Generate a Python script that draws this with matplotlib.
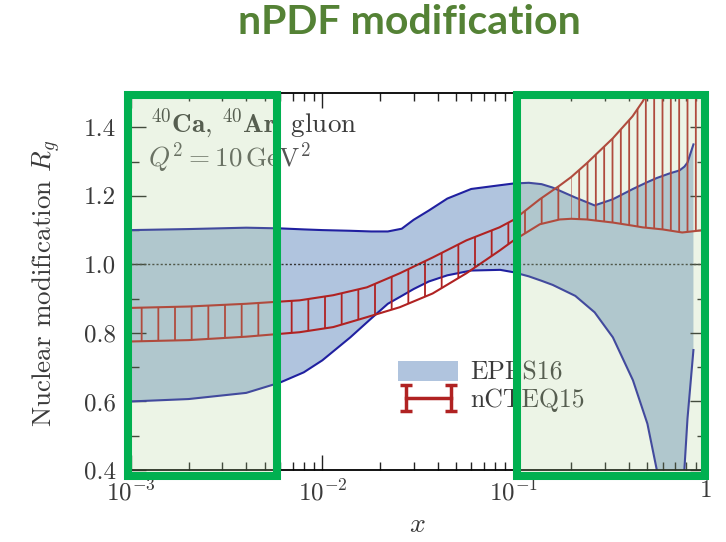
import numpy as np
import matplotlib
matplotlib.use('Agg')
import matplotlib.pyplot as plt
from matplotlib.patches import Rectangle, Patch
from matplotlib.ticker import FixedLocator, FixedFormatter, LogLocator, NullFormatter, MultipleLocator

plt.rcParams['mathtext.fontset'] = 'cm'
plt.rcParams['font.family'] = ['cmr10', 'DejaVu Serif']
plt.rcParams['axes.unicode_minus'] = False
plt.rcParams['hatch.linewidth'] = 1.3

# ---------------- data ----------------
title = 'nPDF modification'

epps_x = [0.001, 0.002, 0.004, 0.006, 0.008, 0.010, 0.014, 0.018, 0.022, 0.026,
          0.030, 0.036, 0.045, 0.060, 0.085, 0.100, 0.120, 0.140, 0.160, 0.210,
          0.265, 0.330, 0.420, 0.500, 0.560, 0.650, 0.735, 0.780, 0.810, 0.870]
epps_hi = [1.100, 1.103, 1.107, 1.105, 1.102, 1.100, 1.098, 1.096, 1.096, 1.104,
           1.130, 1.157, 1.192, 1.220, 1.231, 1.236, 1.238, 1.234, 1.224, 1.195,
           1.172, 1.190, 1.220, 1.240, 1.252, 1.265, 1.274, 1.285, 1.297, 1.350]
epps_lo = [0.600, 0.607, 0.625, 0.655, 0.685, 0.720, 0.787, 0.842, 0.885, 0.908,
           0.928, 0.950, 0.968, 0.982, 0.984, 0.977, 0.965, 0.952, 0.940, 0.908,
           0.860, 0.787, 0.662, 0.535, 0.400, 0.250, 0.300, 0.400, 0.550, 0.750]

ncteq_x = [0.001, 0.002, 0.004, 0.0076, 0.0114, 0.0171, 0.0254, 0.0377, 0.0566, 0.0843,
           0.100, 0.137, 0.174, 0.200, 0.241, 0.330, 0.418, 0.472, 0.600, 0.760, 0.950]
ncteq_hi = [0.873, 0.877, 0.885, 0.895, 0.910, 0.933, 0.974, 1.020, 1.070, 1.108,
            1.130, 1.190, 1.230, 1.255, 1.295, 1.368, 1.432, 1.475, 1.580, 1.720, 1.880]
ncteq_lo = [0.775, 0.779, 0.789, 0.802, 0.817, 0.846, 0.875, 0.915, 0.974, 1.040,
            1.070, 1.117, 1.131, 1.133, 1.131, 1.122, 1.113, 1.108, 1.102, 1.093, 1.099]

xticks = [1e-3, 1e-2, 1e-1, 1]
xticklabels = [r'$10^{-3}$', r'$10^{-2}$', r'$10^{-1}$', r'$1$']
yticks = [0.4, 0.6, 0.8, 1.0, 1.2, 1.4]
yticklabels = ['0.4', '0.6', '0.8', '1.0', '1.2', '1.4']
legend_labels = ['EPPS16', 'nCTEQ15']

# ---------------- style ----------------
W, H = 726, 542
blue_fill = '#b0c4de'
blue_line = '#2020a0'
red = '#b02222'
green = '#00b050'
txt = '#3a3a3a'
overlay = (176/255, 209/255, 151/255, 0.24)

fig = plt.figure(figsize=(W/100, H/100), dpi=100)
ax = fig.add_axes([131/W, 1-470/H, (705-131)/W, (470-93)/H])
ax.set_xscale('log')
ax.set_xlim(1e-3, 1)
ax.set_ylim(0.4, 1.5)

ax.fill_between(epps_x, epps_lo, epps_hi, facecolor=blue_fill, lw=0, zorder=1)
ax.plot(epps_x, epps_hi, color=blue_line, lw=1.5, zorder=2)
ax.plot(epps_x, epps_lo, color=blue_line, lw=1.5, zorder=2)

nx = np.array(ncteq_x)
plt.rcParams['hatch.color'] = red
ax.fill_between(nx, ncteq_lo, ncteq_hi, where=nx <= 0.2, facecolor='none',
                edgecolor=red, hatch='|', lw=0, zorder=3)
ax.fill_between(nx, ncteq_lo, ncteq_hi, where=nx >= 0.2, facecolor='none',
                edgecolor=red, hatch='||', lw=0, zorder=3)
ax.plot(nx, ncteq_hi, color=red, lw=1.5, zorder=4)
ax.plot(nx, ncteq_lo, color=red, lw=1.5, zorder=4)

ax.axhline(1.0, color='#333333', ls=(0, (1.5, 1.5)), lw=1.0, zorder=5)

ax.xaxis.set_major_locator(FixedLocator(xticks))
ax.xaxis.set_major_formatter(FixedFormatter(xticklabels))
ax.xaxis.set_minor_locator(LogLocator(base=10, subs=np.arange(2, 10)))
ax.xaxis.set_minor_formatter(NullFormatter())
ax.yaxis.set_major_locator(FixedLocator(yticks))
ax.yaxis.set_major_formatter(FixedFormatter(yticklabels))
ax.yaxis.set_minor_locator(MultipleLocator(0.1))

ax.tick_params(which='both', direction='in', top=True, right=True, width=1.0, color='#222222')
ax.tick_params(which='major', length=11, labelsize=18, labelcolor=txt)
ax.tick_params(which='minor', length=5.5)
ax.tick_params(axis='x', which='major', pad=7)
ax.tick_params(axis='y', which='major', pad=11)
for s in ax.spines.values():
    s.set_linewidth(1.3)

ax.set_ylabel(r'Nuclear modification $R_g$', fontsize=19.5, color=txt)
ax.yaxis.set_label_coords(-0.118, 0.495)
ax.set_xlabel(r'$x$', fontsize=20, color=txt)
ax.xaxis.set_label_coords(0.498, -0.11)

ax.text(0.033, 0.918, r'$^{40}\mathbf{Ca},\,^{40}\mathbf{Ar},\,\mathrm{gluon}$',
        transform=ax.transAxes, fontsize=19.5, va='center', ha='left', color=txt)
ax.text(0.03, 0.828, r'$Q^2 = 10\,\mathrm{GeV}^2$',
        transform=ax.transAxes, fontsize=19.5, va='center', ha='left', color='#555555')

h_epps = Patch(facecolor=blue_fill, edgecolor='none')
h_nct = ax.errorbar([1e-5], [0.0], yerr=[0.1], fmt='-', color=red, lw=2.5,
                    capsize=4, capthick=2.5, elinewidth=2.5)
leg = ax.legend([h_epps, h_nct], legend_labels, loc='upper left',
                bbox_to_anchor=(398/W, 1-361/H), bbox_transform=fig.transFigure,
                frameon=False, fontsize=18.5, numpoints=2, handlelength=2.35,
                handleheight=0.8, handletextpad=0.45, borderpad=0, borderaxespad=0,
                labelspacing=0.15)
for t in leg.get_texts():
    t.set_color(txt)

fig.text(409/W, 1-23/H, title, fontsize=29.5, fontweight='bold', family='Lato',
         color='#548235', ha='center', va='center')

for (x0, x1) in [(127.5, 276.5), (516.5, 704.5)]:
    y0, y1 = 95, 475.5
    r = Rectangle((x0/W, 1-y1/H), (x1-x0)/W, (y1-y0)/H, transform=fig.transFigure,
                  facecolor=overlay, edgecolor=green, lw=5.8, zorder=10)
    fig.add_artist(r)

fig.savefig('out.png', dpi=100)
